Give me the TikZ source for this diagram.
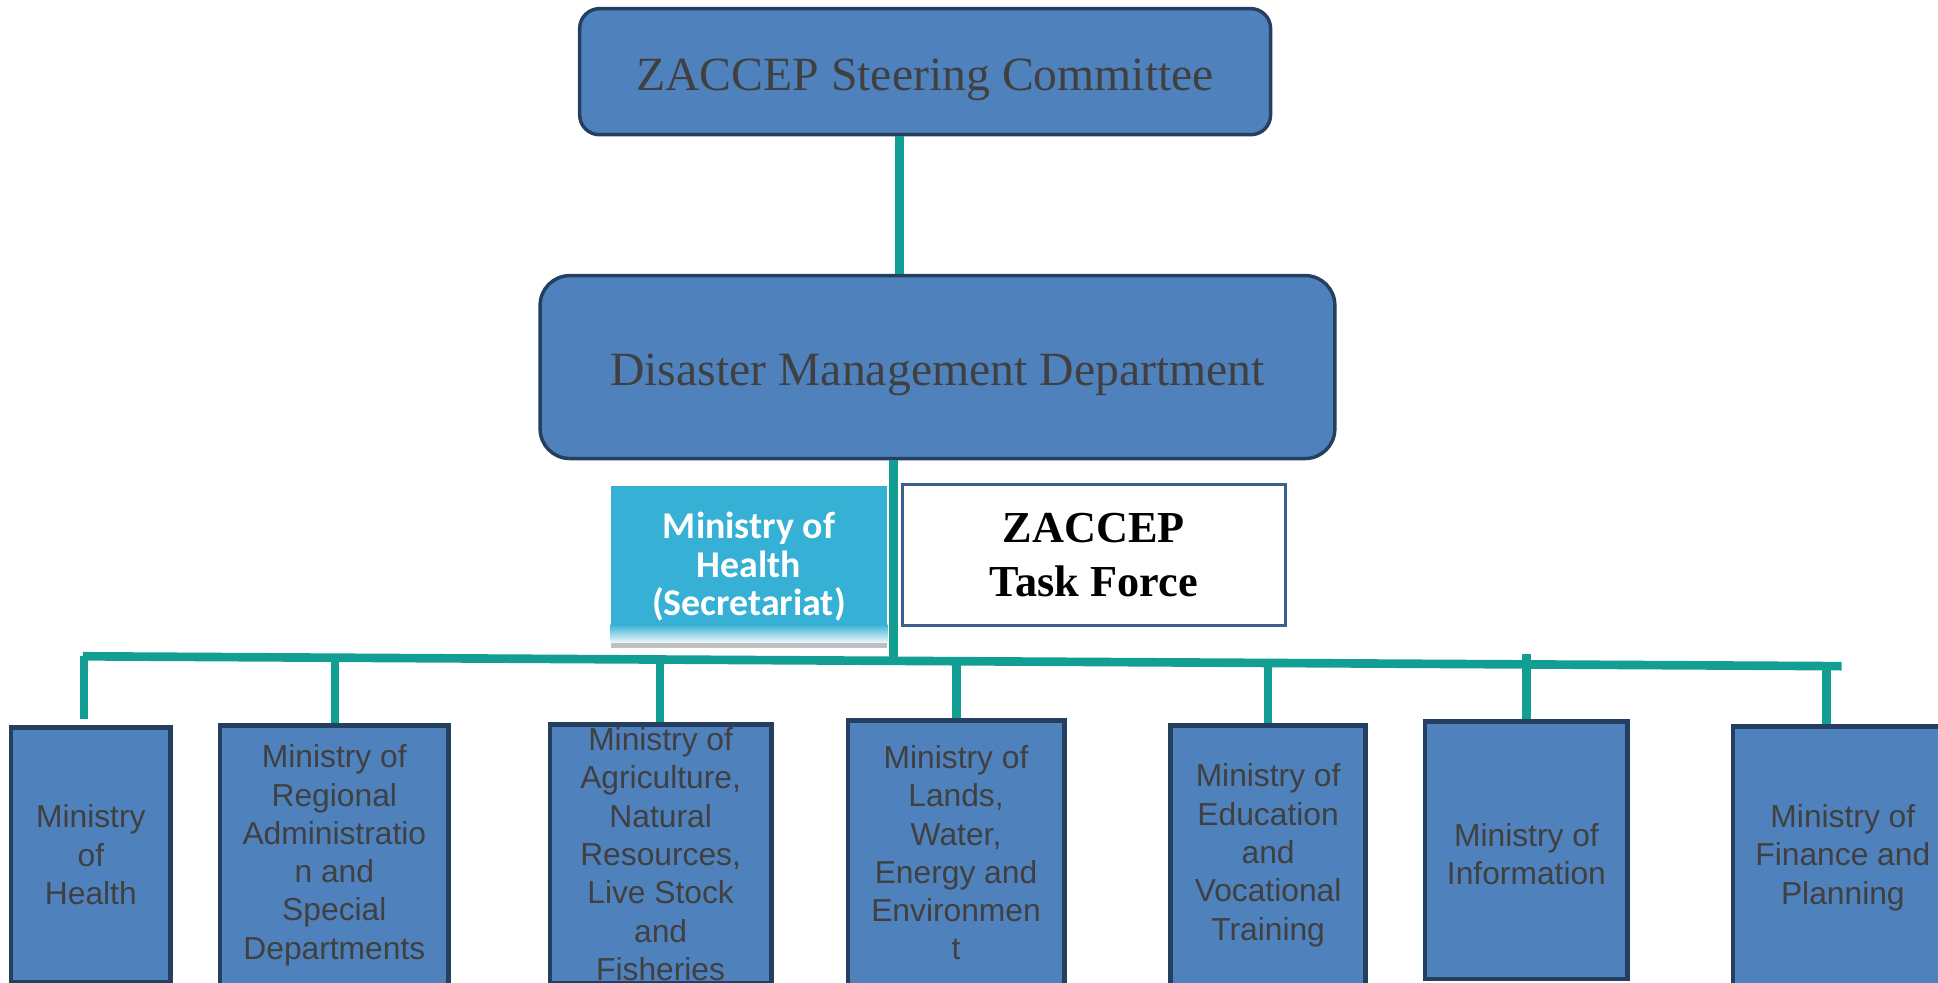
\documentclass[tikz,border=0pt]{standalone}
\usepackage{fontspec}
\setmainfont{Liberation Serif}
\newfontfamily\arialf{Liberation Sans}
\newfontfamily\calibrif{Carlito}
\usetikzlibrary{calc,positioning}
\definecolor{boxfill}{HTML}{4F81BD}
\definecolor{boxline}{HTML}{243F60}
\definecolor{teal}{HTML}{139E94}
\definecolor{txtgray}{HTML}{404040}
\definecolor{secfill}{HTML}{36B0D4}
\definecolor{tfline}{HTML}{3C5F8F}
\tikzset{
  topbox/.style={draw=boxline, line width=1.4pt, fill=boxfill, rounded corners=8pt,
    inner sep=0pt, text=txtgray, text height=15pt, text depth=0pt,
    font=\fontsize{19.3}{23}\selectfont},
  minbox/.style={draw=boxline, line width=1.9pt, fill=boxfill, inner sep=0pt,
    text=txtgray, align=center, font=\arialf\fontsize{12.85}{15.5}\selectfont},
  mintext/.style={inner sep=0pt, text=txtgray, align=center, font=\arialf\fontsize{12.85}{15.5}\selectfont},
  conn/.style={draw=teal, line width=3.5pt},
}
\begin{document}
\begin{tikzpicture}[x=0.5pt,y=-0.5pt]
\useasboundingbox (0,0) rectangle (1568,795);
\clip (0,0) rectangle (1568,795);
% top boxes
\node[topbox, minimum width=279.5pt, minimum height=51pt] (steer) at (748.5,58) {ZACCEP Steering Committee};
\node[topbox, minimum width=321.5pt, minimum height=74pt, rounded corners=12pt] (dmd) at (758.5,297) {Disaster Management Department};
% secretariat
\fill[secfill] (494,393) rectangle (718,505);
\shade[top color=secfill, bottom color=white!92!secfill] (494,505) rectangle (718,520);
\fill[black!25] (494,520) rectangle (718,524);
\node[text=white, align=center, font=\calibrif\bfseries\fontsize{15.3}{15.5}\selectfont] (sec) at (606,458.5) {Ministry of\\Health\\(Secretariat)};
% task force
\node[draw=tfline, line width=1.3pt, fill=white, minimum width=155pt, minimum height=57pt, inner sep=0pt,
  align=center, font=\bfseries\fontsize{17.9}{22}\selectfont] (tf) at (885,449) {ZACCEP\\Task Force};
% bottom boxes
\node[minbox, minimum width=64.5pt, minimum height=103pt] (m1) at (73.5,691.5) {Ministry\\of\\Health};
\node[minbox, minimum width=92.5pt, minimum height=105pt] (m2) at (270.5,692) {Ministry of\\Regional\\Administratio\\n and\\Special\\Departments};
\node[minbox, minimum width=89.5pt, minimum height=105pt] (m3) at (534.5,691) {Ministry of\\Agriculture,\\Natural\\Resources,\\Live Stock\\and\\Fisheries};
\node[minbox, minimum width=87.5pt, minimum height=107pt] (m4) at (773.5,690) {Ministry of\\Lands,\\Water,\\Energy and\\Environmen\\t};
\node[minbox, minimum width=79pt, minimum height=105pt] (m5) at (1026,692) {Ministry of\\Education\\and\\Vocational\\Training};
\node[minbox, minimum width=82pt, minimum height=104pt] (m6) at (1235,688) {};
\node[mintext] (m6t) at (1235,691) {Ministry of\\Information};
\node[minbox, minimum width=89pt, minimum height=106pt] (m7) at (1491,694) {Ministry of\\Finance and\\Planning};
% bus
\coordinate (busL) at (67,531);
\coordinate (busR) at (1490,539);
\coordinate (j0) at (723,534.7);
\coordinate (j1) at (68,531);
\coordinate (j2) at (271,532.1);
\coordinate (j3) at (534,533.6);
\coordinate (j4) at (774,535);
\coordinate (j5) at (1026,536.4);
\coordinate (j6) at (1235,529);
\coordinate (j7) at (1478,538);
\draw[conn] ([xshift=-10.25pt]steer.south) -- ([xshift=-15.25pt]dmd.north);
\draw[conn] ([xshift=-17.75pt]dmd.south) -- (j0);
\draw[conn] (busL) -- (busR);
\draw[conn] (j1) -- ([yshift=2.5pt]m1.north -| j1);
\draw[conn] (j2) -- (m2.north -| j2);
\draw[conn] (j3) -- (m3.north -| j3);
\draw[conn] (j4) -- (m4.north -| j4);
\draw[conn] (j5) -- (m5.north -| j5);
\draw[conn] (j6) -- (m6.north -| j6);
\draw[conn] (j7) -- (m7.north -| j7);
\end{tikzpicture}
\end{document}
